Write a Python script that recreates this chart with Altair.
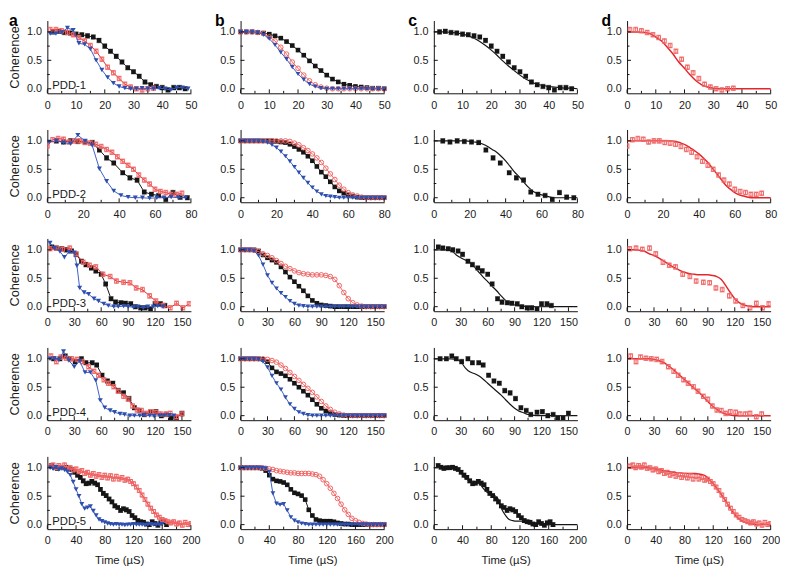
import altair as alt
import pandas as pd

FONT = "Liberation Sans"
W, H = 146, 74
YDOM = [-0.08, 1.2]

BLACK = "#151515"
BLACK_ERR = "#7a7a7a"
RED_MARK = "#f06464"
RED_LINE = "#e3262b"
BLUE = "#2f4fae"
BLUE_LINE = "#3d5fc6"

# ---------------- PDD-1 (0-50 us) ----------------
P1_BLACK_T = [2, 4, 6, 8, 10, 12, 14, 16, 18, 20, 22, 24, 26, 28, 30, 32, 34, 36, 38, 40, 42, 44, 46, 48]
P1_BLACK_Y = [1.00, 1.01, 0.99, 0.98, 0.96, 0.95, 0.93, 0.91, 0.85, 0.75, 0.66, 0.57, 0.47, 0.37, 0.30, 0.22,
              0.12, 0.07, 0.04, 0.02, -0.02, 0.02, 0.02, 0.00]
P1_BLACK_ERR = 0.04
P1_RED_T = [1, 3, 5, 7, 9, 11, 13, 15, 17, 19, 21, 23, 25, 27, 29, 31, 33, 35, 37]
P1_RED_Y = [1.04, 1.04, 1.02, 0.99, 0.95, 0.90, 0.84, 0.76, 0.66, 0.52, 0.38, 0.28, 0.18, 0.08, 0.03, 0.00,
            -0.02, 0.00, 0.01]
P1_RED_ERR = 0.04
P1_BLUE_T = [1, 3, 5, 7, 9, 11, 13, 15, 17, 19, 21, 23, 25, 27, 29, 31, 33, 35, 37, 39, 41, 43, 45, 47, 49]
P1_BLUE_Y = [0.97, 0.97, 0.99, 1.07, 1.03, 0.80, 0.78, 0.70, 0.50, 0.33, 0.20, 0.10, 0.04, 0.01, 0.00, 0.00,
             0.01, 0.00, 0.00, 0.01, 0.00, -0.02, 0.02, 0.02, 0.00]
P1_SIM_T = [0, 2, 4, 6, 8, 10, 12, 14, 16, 18, 20, 22, 24, 26, 28, 30, 32, 34, 36, 38, 40, 42, 44, 46, 48, 50]
P1_SIM_BLACK = [1.00, 1.00, 1.00, 0.99, 0.98, 0.96, 0.93, 0.89, 0.83, 0.76, 0.68, 0.59, 0.49, 0.40, 0.32, 0.24,
                0.17, 0.12, 0.08, 0.06, 0.04, 0.03, 0.02, 0.01, 0.01, 0.00]
P1_SIM_RED = [1.00, 1.00, 1.00, 0.99, 0.97, 0.91, 0.84, 0.73, 0.61, 0.47, 0.36, 0.24, 0.14, 0.07, 0.03, 0.01,
              0.00, 0.00, 0.00, 0.00, 0.00, 0.00, 0.00, 0.00, 0.00, 0.00]
P1_SIM_BLUE = [1.00, 1.00, 1.00, 0.99, 0.95, 0.88, 0.77, 0.64, 0.52, 0.38, 0.26, 0.16, 0.08, 0.04, 0.01, 0.00,
               0.00, 0.00, 0.00, 0.00, 0.00, 0.00, 0.00, 0.00, 0.00, 0.00]

# ---------------- PDD-2 (0-80 us) ----------------
P2_BLACK_T = [5, 9, 13, 17, 21, 25, 29, 33, 37, 42, 46, 50, 54, 58, 62, 66, 70, 74, 78]
P2_BLACK_Y = [1.00, 0.98, 1.00, 0.99, 0.98, 0.97, 0.84, 0.70, 0.61, 0.44, 0.35, 0.31, 0.10, 0.06, 0.04, -0.03,
              0.09, 0.01, 0.00]
P2_BLACK_ERR = 0.04
P2_RED_T = [0, 3, 6, 9, 12, 15, 18, 21, 24, 27, 30, 33, 36, 39, 42, 45, 48, 51, 54, 57, 60, 63, 66, 69, 72, 75]
P2_RED_Y = [0.91, 1.02, 1.04, 1.03, 0.98, 1.00, 1.00, 0.97, 0.96, 0.94, 0.90, 0.85, 0.80, 0.72, 0.64, 0.57,
            0.50, 0.40, 0.31, 0.24, 0.15, 0.11, 0.09, 0.06, 0.06, 0.08]
P2_RED_ERR = 0.04
P2_BLUE_T = [1, 5, 9, 13, 17, 21, 25, 29, 33, 37, 41, 45, 49, 53, 57, 61, 65, 69, 73, 77]
P2_BLUE_Y = [0.98, 1.00, 0.97, 0.95, 1.10, 1.00, 0.92, 0.51, 0.29, 0.12, 0.04, 0.01, 0.00, 0.00, -0.01, 0.00,
             0.00, 0.01, 0.00, 0.00]
P2_SIM_T = [0, 2.5, 5, 7.5, 10, 12.5, 15, 17.5, 20, 22.5, 25, 27.5, 30, 32.5, 35, 37.5, 40, 42.5, 45, 47.5, 50,
            52.5, 55, 57.5, 60, 62.5, 65, 67.5, 70, 72.5, 75, 77.5, 80]
P2_SIM_BLACK = [1, 1, 1, 1, 1, 1, 1, 1, 0.99, 0.98, 0.97, 0.94, 0.90, 0.85, 0.80, 0.73, 0.65, 0.55, 0.45, 0.37,
                0.28, 0.19, 0.12, 0.08, 0.05, 0.03, 0.01, 0, 0, 0, 0, 0, 0]
P2_SIM_RED = [1, 1, 1, 1, 1, 1, 1, 1, 1, 1, 1, 0.99, 0.96, 0.93, 0.88, 0.83, 0.77, 0.70, 0.62, 0.52, 0.42, 0.32,
              0.22, 0.15, 0.09, 0.05, 0.03, 0.01, 0, 0, 0, 0, 0]
P2_SIM_BLUE = [1, 1, 1, 1, 1, 0.99, 0.97, 0.93, 0.88, 0.81, 0.73, 0.64, 0.54, 0.44, 0.35, 0.26, 0.18, 0.11, 0.06,
               0.03, 0.02, 0.01, 0, 0, 0, 0, 0, 0, 0, 0, 0, 0, 0]

# ---------------- PDD-3 (0-160 us) ----------------
P3_BLACK_T = [5, 10, 16, 21, 27, 32, 38, 43, 49, 54, 60, 65, 71, 76, 82, 87, 93, 98, 104, 109, 115, 120, 126, 131]
P3_BLACK_Y = [1.05, 1.03, 1.02, 1.00, 0.98, 0.92, 0.80, 0.74, 0.68, 0.63, 0.57, 0.40, 0.14, 0.08, 0.07, 0.06,
              0.05, 0.00, -0.02, -0.02, -0.04, 0.05, 0.05, 0.02]
P3_BLACK_ERR = 0.04
P3_RED_T = [3, 10, 17, 25, 32, 40, 47, 54, 62, 70, 77, 85, 92, 99, 106, 114, 121, 129, 137, 144, 151, 158]
P3_RED_Y = [1.02, 1.03, 1.01, 1.03, 0.93, 0.78, 0.73, 0.70, 0.57, 0.53, 0.45, 0.43, 0.42, 0.33, 0.30, 0.19,
            0.10, 0.02, -0.02, 0.06, -0.02, 0.05]
P3_RED_ERR = 0.04
P3_BLUE_T = [3, 8, 14, 19, 24, 30, 33, 36, 41, 46, 52, 57, 63, 68, 74, 79, 85, 90, 96, 101, 107, 112, 118, 123, 129]
P3_BLUE_Y = [1.12, 1.03, 0.97, 0.87, 0.96, 0.95, 0.72, 0.33, 0.25, 0.22, 0.14, 0.10, 0.05, 0.02, 0.00, 0.00,
             0.01, 0.00, -0.01, 0.00, -0.02, 0.00, 0.00, 0.01, 0.00]
P3_SIM_T = [0, 5, 10, 15, 20, 25, 30, 35, 40, 45, 50, 55, 60, 65, 70, 75, 80, 85, 90, 95, 100, 105, 110, 115,
            120, 125, 130, 135, 140, 145, 150, 155, 160]
P3_SIM_BLACK = [1, 1, 1, 1.0, 0.98, 0.91, 0.86, 0.82, 0.78, 0.70, 0.61, 0.52, 0.44, 0.36, 0.28, 0.19, 0.11, 0.06,
                0.03, 0.02, 0.01, 0, 0, 0, 0, 0, 0, 0, 0, 0, 0, 0, 0]
P3_SIM_RED = [1, 1, 1, 0.99, 0.97, 0.93, 0.90, 0.86, 0.81, 0.76, 0.71, 0.67, 0.63, 0.60, 0.58, 0.57, 0.56, 0.56,
              0.56, 0.55, 0.53, 0.48, 0.37, 0.25, 0.14, 0.07, 0.03, 0.01, 0, 0, 0, 0, 0]
P3_SIM_BLUE = [1, 1, 1, 0.98, 0.90, 0.74, 0.55, 0.42, 0.32, 0.24, 0.17, 0.10, 0.05, 0.02, 0.01, 0, 0, 0, 0, 0, 0,
               0, 0, 0, 0, 0, 0, 0, 0, 0, 0, 0, 0]

# ---------------- PDD-4 (0-160 us) ----------------
P4_BLACK_T = [7, 14, 20, 25, 31, 38, 43, 50, 55, 61, 67, 73, 79, 85, 91, 97, 103, 108, 115, 121, 127, 133, 138,
              144, 150]
P4_BLACK_Y = [1.00, 1.00, 1.05, 1.00, 0.95, 1.00, 0.93, 0.93, 0.89, 0.71, 0.61, 0.57, 0.44, 0.40, 0.30, 0.14,
              0.09, 0.02, 0.06, 0.07, 0.00, 0.02, -0.04, -0.04, 0.04]
P4_BLACK_ERR = 0.04
P4_RED_T = [4, 10, 15, 21, 27, 33, 39, 46, 52, 57, 63, 68, 74, 79, 85, 90, 95, 100, 105, 110, 115, 121, 126, 132,
            137, 144, 150]
P4_RED_Y = [1.05, 0.95, 1.03, 1.01, 1.00, 0.99, 0.95, 0.86, 0.78, 0.71, 0.63, 0.57, 0.51, 0.43, 0.34, 0.29,
            0.17, 0.10, 0.09, 0.04, 0.07, 0.06, 0.03, 0.03, 0.04, -0.02, 0.03]
P4_RED_ERR = 0.04
P4_BLUE_T = [3, 8, 13, 18, 24, 30, 36, 42, 48, 54, 59, 64, 70, 75, 81, 86, 92, 97, 103, 108, 114, 119, 125, 130,
             136, 141]
P4_BLUE_Y = [1.00, 1.00, 0.98, 1.13, 0.97, 0.86, 0.96, 0.76, 0.76, 0.62, 0.27, 0.14, 0.09, 0.06, 0.03, 0.02,
             0.00, 0.00, 0.00, 0.01, 0.00, -0.01, 0.00, 0.00, 0.01, 0.00]
P4_SIM_T = P3_SIM_T
P4_SIM_BLACK = [1, 1, 1, 1, 1, 0.99, 0.95, 0.84, 0.77, 0.74, 0.70, 0.64, 0.57, 0.50, 0.43, 0.36, 0.28, 0.20,
                0.13, 0.08, 0.05, 0.02, 0.01, 0, 0, 0, 0, 0, 0, 0, 0, 0, 0]
P4_SIM_RED = [1, 1, 1, 1, 1, 1, 0.99, 0.97, 0.94, 0.89, 0.83, 0.76, 0.69, 0.62, 0.55, 0.48, 0.41, 0.33, 0.25,
              0.17, 0.11, 0.06, 0.03, 0.01, 0, 0, 0, 0, 0, 0, 0, 0, 0]
P4_SIM_BLUE = [1, 1, 1, 1, 0.99, 0.95, 0.85, 0.70, 0.57, 0.46, 0.32, 0.20, 0.12, 0.06, 0.03, 0.01, 0, 0, 0, 0, 0,
               0, 0, 0, 0, 0, 0, 0, 0, 0, 0, 0, 0]

# ---------------- PDD-5 (0-200 us) ----------------
P5_BLACK_T = [6, 10, 14, 18, 22, 26, 30, 34, 38, 42, 46, 50, 54, 58, 62, 66, 70, 74, 78, 82, 86, 90, 94, 98, 102,
              106, 110, 114, 118, 122, 126, 130, 134, 138, 142, 146, 150, 154, 158, 162, 166]
P5_BLACK_Y = [1.04, 1.01, 0.99, 1.00, 1.00, 1.01, 0.99, 0.97, 0.92, 0.87, 0.83, 0.77, 0.72, 0.73, 0.76, 0.73,
              0.70, 0.62, 0.55, 0.51, 0.45, 0.40, 0.33, 0.30, 0.25, 0.28, 0.26, 0.23, 0.16, 0.12, 0.07, 0.05,
              0.04, 0.01, 0.00, 0.05, 0.02, -0.01, 0.03, 0.05, 0.00]
P5_BLACK_ERR = 0.035
P5_RED_T = [4, 8, 12, 16, 20, 24, 28, 32, 36, 40, 44, 48, 52, 56, 60, 64, 68, 72, 76, 80, 84, 88, 92, 96, 100,
            104, 108, 112, 116, 120, 124, 128, 132, 136, 140, 144, 148, 152, 156, 160, 164, 168, 172, 176, 180,
            184, 188, 192, 196, 200]
P5_RED_Y = [1.03, 1.05, 1.00, 1.04, 1.01, 1.05, 0.99, 1.00, 0.96, 0.98, 0.93, 0.95, 0.90, 0.92, 0.87, 0.90, 0.85,
            0.88, 0.83, 0.87, 0.82, 0.86, 0.80, 0.85, 0.80, 0.83, 0.78, 0.80, 0.76, 0.72, 0.66, 0.60, 0.52, 0.44,
            0.36, 0.29, 0.23, 0.17, 0.13, 0.09, 0.07, 0.05, 0.03, 0.05, 0.01, 0.03, -0.01, 0.04, 0.00, 0.02]
P5_RED_ERR = 0.035
P5_BLUE_T = [4, 8, 12, 16, 20, 24, 28, 32, 36, 40, 44, 48, 52, 56, 60, 64, 68, 72, 76, 80, 84, 88, 92, 96, 100,
             104, 108, 112, 116, 120, 124, 128, 132, 136, 140, 144, 148, 152, 156, 160]
P5_BLUE_Y = [1.00, 0.98, 1.01, 0.97, 0.99, 0.96, 0.93, 0.87, 0.75, 0.62, 0.50, 0.36, 0.28, 0.30, 0.32, 0.24, 0.16,
             0.09, 0.06, 0.04, 0.02, 0.01, 0.00, 0.01, 0.00, 0.00, -0.01, 0.00, 0.00, 0.01, 0.00, 0.00, 0.00,
             -0.01, 0.00, 0.01, 0.00, 0.00, 0.00, 0.01]
P5_SIM_T = [0, 5, 10, 15, 20, 25, 30, 35, 40, 45, 50, 55, 60, 65, 70, 75, 80, 85, 90, 95, 100, 105, 110, 115, 120,
            125, 130, 135, 140, 145, 150, 155, 160, 165, 170, 175, 180, 185, 190, 195, 200]
P5_SIM_BLACK = [1, 1, 1, 1, 1, 1, 0.99, 0.95, 0.87, 0.80, 0.77, 0.76, 0.74, 0.70, 0.62, 0.56, 0.54, 0.51, 0.44,
                0.26, 0.16, 0.09, 0.07, 0.06, 0.06, 0.06, 0.05, 0.03, 0.02, 0.01, 0.01, 0, 0, 0, 0, 0, 0, 0, 0, 0, 0]
P5_SIM_RED = [1, 1, 1, 1, 1, 1, 1, 0.99, 0.98, 0.97, 0.95, 0.94, 0.93, 0.92, 0.91, 0.91, 0.90, 0.90, 0.90, 0.90,
              0.89, 0.88, 0.85, 0.79, 0.72, 0.64, 0.55, 0.46, 0.36, 0.26, 0.18, 0.11, 0.07, 0.04, 0.02, 0.01,
              0, 0, 0, 0, 0]
P5_SIM_BLUE = [1, 1, 1, 1, 1, 1, 1, 0.99, 0.93, 0.55, 0.37, 0.35, 0.36, 0.25, 0.13, 0.07, 0.04, 0.02, 0.01, 0, 0,
               0, 0, 0, 0, 0, 0, 0, 0, 0, 0, 0, 0, 0, 0, 0, 0, 0, 0, 0, 0]

ROW_NAMES = ["PDD-1", "PDD-2", "PDD-3", "PDD-4", "PDD-5"]
ROW_XMAX = [50, 80, 160, 160, 200]
ROW_MAJOR = [[0, 10, 20, 30, 40, 50], [0, 20, 40, 60, 80], [0, 30, 60, 90, 120, 150],
             [0, 30, 60, 90, 120, 150], [0, 40, 80, 120, 160, 200]]
ROW_MINOR = [[5, 15, 25, 35, 45], [10, 30, 50, 70], [15, 45, 75, 105, 135],
             [15, 45, 75, 105, 135], [20, 60, 100, 140, 180]]
Y_MAJOR = [0.0, 0.5, 1.0]
Y_MINOR = [0.25, 0.75]
PANEL_LETTERS = ["a", "b", "c", "d"]

ROW_DATA = [
    (P1_BLACK_T, P1_BLACK_Y, P1_BLACK_ERR, P1_RED_T, P1_RED_Y, P1_RED_ERR, P1_BLUE_T, P1_BLUE_Y,
     P1_SIM_T, P1_SIM_BLACK, P1_SIM_RED, P1_SIM_BLUE),
    (P2_BLACK_T, P2_BLACK_Y, P2_BLACK_ERR, P2_RED_T, P2_RED_Y, P2_RED_ERR, P2_BLUE_T, P2_BLUE_Y,
     P2_SIM_T, P2_SIM_BLACK, P2_SIM_RED, P2_SIM_BLUE),
    (P3_BLACK_T, P3_BLACK_Y, P3_BLACK_ERR, P3_RED_T, P3_RED_Y, P3_RED_ERR, P3_BLUE_T, P3_BLUE_Y,
     P3_SIM_T, P3_SIM_BLACK, P3_SIM_RED, P3_SIM_BLUE),
    (P4_BLACK_T, P4_BLACK_Y, P4_BLACK_ERR, P4_RED_T, P4_RED_Y, P4_RED_ERR, P4_BLUE_T, P4_BLUE_Y,
     P4_SIM_T, P4_SIM_BLACK, P4_SIM_RED, P4_SIM_BLUE),
    (P5_BLACK_T, P5_BLACK_Y, P5_BLACK_ERR, P5_RED_T, P5_RED_Y, P5_RED_ERR, P5_BLUE_T, P5_BLUE_Y,
     P5_SIM_T, P5_SIM_BLACK, P5_SIM_RED, P5_SIM_BLUE),
]


def exp_df(t, y, err=None):
    df = pd.DataFrame({"t": t, "y": y})
    if err is not None:
        df["lo"] = df["y"] - err
        df["hi"] = df["y"] + err
    return df


def panel(r, c):
    (bt, by, be, rt, ry, re_, ut, uy, st, sb, sr, su) = ROW_DATA[r]
    xs = alt.Scale(domain=[0, ROW_XMAX[r]], nice=False, zero=False)
    ys = alt.Scale(domain=YDOM, nice=False, zero=False)
    xaxis = alt.Axis(values=ROW_MAJOR[r], format="d", title="Time (µS)" if r == 4 else None,
                     tickSize=0, labelPadding=6, titlePadding=9, grid=False, labelFlush=False,
                     labelOverlap=False, domainColor="#111", domainWidth=1, labelColor="#1a1a1a",
                     labelFont=FONT, labelFontSize=11, titleFont=FONT, titleFontSize=11.5,
                     titleFontWeight="normal", titleColor="#1a1a1a")
    yaxis = alt.Axis(values=Y_MAJOR, format=".1f", title="Coherence" if c == 0 else None,
                     tickSize=0, labelPadding=6, titlePadding=5.5, grid=False, labelFlush=False,
                     labelOverlap=False, domainColor="#111", domainWidth=1, labelColor="#1a1a1a",
                     labelFont=FONT, labelFontSize=11, titleFont=FONT, titleFontSize=13,
                     titleFontWeight="normal", titleColor="#1a1a1a")

    def X(f="t"):
        return alt.X(f"{f}:Q", scale=xs, axis=xaxis)

    def Y(f="y"):
        return alt.Y(f"{f}:Q", scale=ys, axis=yaxis)

    layers = []

    def exp_layers(df, line_color, err_color, shape, filled, size, with_line=True):
        out = []
        if with_line:
            out.append(alt.Chart(df).mark_line(color=line_color, strokeWidth=1, clip=True)
                       .encode(x=X(), y=Y()))
        out.append(alt.Chart(df).mark_rule(color=err_color, strokeWidth=1, clip=True)
                   .encode(x=X(), y=Y("lo"), y2="hi:Q"))
        out.append(alt.Chart(df).mark_tick(color=err_color, orient="horizontal", size=5, thickness=1,
                                           clip=True).encode(x=X(), y=Y("lo")))
        out.append(alt.Chart(df).mark_tick(color=err_color, orient="horizontal", size=5, thickness=1,
                                           clip=True).encode(x=X(), y=Y("hi")))
        out.append(alt.Chart(df).mark_point(shape=shape, filled=filled, size=size,
                                            color=line_color if filled else err_color,
                                            opacity=1, strokeWidth=1, clip=True)
                   .encode(x=X(), y=Y()))
        return out

    black = exp_df(bt, by, be)
    red = exp_df(rt, ry, re_)
    blue = exp_df(ut, uy)
    sim_b = exp_df(st, sb)
    sim_r = exp_df(st, sr)
    sim_u = exp_df(st, su)

    if c == 0:
        layers += exp_layers(black, BLACK, BLACK_ERR, "square", True, 22)
        layers += exp_layers(red, RED_LINE, RED_MARK, "square", False, 14)
        layers.append(alt.Chart(blue).mark_line(color=BLUE_LINE, strokeWidth=1, clip=True).encode(x=X(), y=Y()))
        layers.append(alt.Chart(blue).mark_point(shape="triangle-down", filled=True, size=26, color=BLUE,
                                                 opacity=1, clip=True).encode(x=X(), y=Y()))
        ypx = H * (YDOM[1] - 0.0) / (YDOM[1] - YDOM[0])
        layers.append(alt.Chart(pd.DataFrame({"label": [ROW_NAMES[r]]}))
                      .mark_text(align="left", baseline="alphabetic", font=FONT, fontSize=11.5, color="#1a1a1a")
                      .encode(text="label:N", x=alt.value(5), y=alt.value(ypx)))
    elif c == 1:
        layers.append(alt.Chart(sim_b).mark_line(color=BLACK, strokeWidth=1).encode(x=X(), y=Y()))
        layers.append(alt.Chart(sim_b).mark_point(shape="square", filled=True, size=22, color=BLACK, opacity=1)
                      .encode(x=X(), y=Y()))
        layers.append(alt.Chart(sim_r).mark_line(color=RED_MARK, strokeWidth=1).encode(x=X(), y=Y()))
        layers.append(alt.Chart(sim_r).mark_point(shape="circle", filled=False, size=22, color=RED_MARK,
                                                  opacity=1, strokeWidth=1).encode(x=X(), y=Y()))
        layers.append(alt.Chart(sim_u).mark_line(color=BLUE_LINE, strokeWidth=1).encode(x=X(), y=Y()))
        layers.append(alt.Chart(sim_u).mark_point(shape="triangle-down", filled=True, size=24, color=BLUE,
                                                  opacity=1).encode(x=X(), y=Y()))
    elif c == 2:
        layers.append(alt.Chart(sim_b).mark_line(color=BLACK, strokeWidth=1.2, interpolate="monotone")
                      .encode(x=X(), y=Y()))
        layers += exp_layers(black, BLACK, BLACK_ERR, "square", True, 22, with_line=False)
    else:
        layers.append(alt.Chart(sim_r).mark_line(color=RED_LINE, strokeWidth=1.5, interpolate="monotone")
                      .encode(x=X(), y=Y()))
        layers += exp_layers(red, RED_LINE, RED_MARK, "square", False, 14, with_line=False)

    # inward ticks
    layers.append(alt.Chart(pd.DataFrame({"t": ROW_MAJOR[r]})).mark_rule(color="#111", strokeWidth=1)
                  .encode(x=X(), y=alt.value(H), y2=alt.value(H - 4)))
    layers.append(alt.Chart(pd.DataFrame({"t": ROW_MINOR[r]})).mark_rule(color="#111", strokeWidth=1)
                  .encode(x=X(), y=alt.value(H), y2=alt.value(H - 2.5)))
    layers.append(alt.Chart(pd.DataFrame({"y": Y_MAJOR})).mark_rule(color="#111", strokeWidth=1)
                  .encode(y=Y(), x=alt.value(0), x2=alt.value(4)))
    layers.append(alt.Chart(pd.DataFrame({"y": Y_MINOR})).mark_rule(color="#111", strokeWidth=1)
                  .encode(y=Y(), x=alt.value(0), x2=alt.value(2.5)))

    if r == 0:
        lx = -39 if c == 0 else -26
        layers.append(alt.Chart(pd.DataFrame({"label": [PANEL_LETTERS[c]]}))
                      .mark_text(align="left", baseline="alphabetic", font=FONT, fontSize=16,
                                 fontWeight="bold", color="#000")
                      .encode(text="label:N", x=alt.value(lx), y=alt.value(5.5)))

    return alt.layer(*layers).properties(width=W, height=H)


panels = [panel(r, c) for r in range(5) for c in range(4)]

chart = alt.concat(*panels, columns=4, spacing={"row": 36.8, "column": 50.5}, bounds="flush").properties(
    padding=0, background="white"
).configure_view(stroke=None)

chart.save("out.html", embed_options={"renderer": "svg", "actions": False})
